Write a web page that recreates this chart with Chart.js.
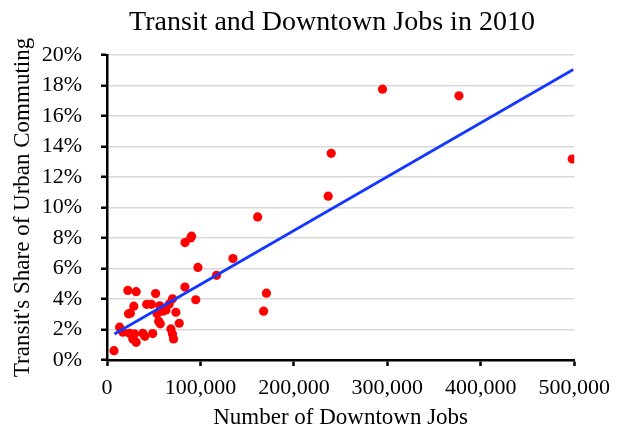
<!DOCTYPE html>
<html>
<head>
<meta charset="utf-8">
<script src="https://cdn.jsdelivr.net/npm/chart.js@4.4.1/dist/chart.umd.min.js"></script>
<style>
html,body{margin:0;padding:0;background:#fff;}
#wrap{position:relative;width:619px;height:429px;}
</style>
</head>
<body>
<div id="wrap"><canvas id="c" width="619" height="429"></canvas></div>
<script>
// Downtown jobs (x) and transit share of commuting in % (y)
const downtownJobs = [7500,13500,17000,22300,23000,24000,25000,27600,28700,29400,31200,31200,38300,40500,42500,47500,48900,52000,53500,55300,56500,57000,59500,63100,66600,68400,70100,70100,71200,73700,77300,83400,83500,89500,90500,95000,97300,117200,134800,161200,167600,170600,236700,239900,294800,376600,497800];
const transitShare = [0.61,2.15,1.82,4.56,3.03,1.75,3.07,1.38,3.53,1.71,4.48,1.16,1.75,1.55,3.65,3.65,1.73,4.36,3.03,2.54,3.55,2.37,3.2,3.28,3.68,2.04,4.01,1.71,1.38,3.13,2.41,4.78,7.7,8.0,8.12,3.95,6.07,5.55,6.65,9.38,3.2,4.38,10.74,13.55,17.76,17.32,13.18];
const trendX = [8000, 499000];
const trendY = [1.70, 19.05];
const xTicks = [0,100000,200000,300000,400000,500000];
const yTicks = [0,2,4,6,8,10,12,14,16,18,20];
const chartTitle = 'Transit and Downtown Jobs in 2010';

const FONT = "'Liberation Serif', 'Times New Roman', serif";
const pts = downtownJobs.map((x,i)=>({x:x,y:transitShare[i]}));
const trend = trendX.map((x,i)=>({x:x,y:trendY[i]}));

const titlePlugin = {
  id:'topTitle',
  afterDraw(chart){
    const ctx = chart.ctx;
    ctx.save();
    ctx.font = '28px ' + FONT;
    ctx.fillStyle = '#000';
    ctx.textAlign = 'center';
    ctx.textBaseline = 'middle';
    ctx.fillText(chartTitle, 332, 23);
    ctx.restore();
  }
};

new Chart(document.getElementById('c'), {
  type: 'scatter',
  data: { datasets: [
    { label:'Trend', type:'line', data: trend, borderColor:'#1438ff', borderWidth:2.8, pointRadius:0, fill:false, order:0 },
    { label:'Cities', data: pts, backgroundColor:'#ff0000', borderColor:'#ff0000', pointRadius:4.6, pointHoverRadius:4.6, borderWidth:0, order:1 }
  ]},
  plugins:[titlePlugin],
  options: {
    responsive:false, animation:false,
    layout:{ padding:{ top:55, right:41, bottom:0, left:9 } },
    plugins:{ legend:{display:false}, tooltip:{enabled:false}, title:{display:false} },
    scales:{
      x:{ type:'linear', min:0, max:500000,
        afterBuildTicks:(s)=>{ s.ticks = xTicks.map(v=>({value:v})); },
        afterFit:(s)=>{ s.height = 69; },
        border:{ display:true, color:'#000', width:2.5 },
        grid:{ drawOnChartArea:false, drawTicks:true, tickLength:6, tickColor:'#000', tickWidth:2.5 },
        ticks:{ color:'#000', font:{family:FONT,size:22}, padding:9, maxRotation:0,
          callback:(v)=>v.toLocaleString('en-US') },
        title:{ display:true, text:'Number of Downtown Jobs', color:'#000', font:{family:FONT,size:23}, padding:{top:0,bottom:-3} }
      },
      y:{ type:'linear', min:0, max:20,
        afterBuildTicks:(s)=>{ s.ticks = yTicks.map(v=>({value:v})); },
        afterFit:(s)=>{ s.width = 98; },
        border:{ display:true, color:'#000', width:2.5 },
        grid:{ color:'#d9d9d9', lineWidth:1.5, drawTicks:true, tickLength:6, tickColor:'#000', tickWidth:2.5 },
        ticks:{ color:'#000', font:{family:FONT,size:22}, padding:19, callback:(v)=>v+'%' },
        title:{ display:true, text:"Transit's Share of Urban Commuting", color:'#000', font:{family:FONT,size:23}, padding:{top:0,bottom:0} }
      }
    }
  }
});
</script>
</body>
</html>
